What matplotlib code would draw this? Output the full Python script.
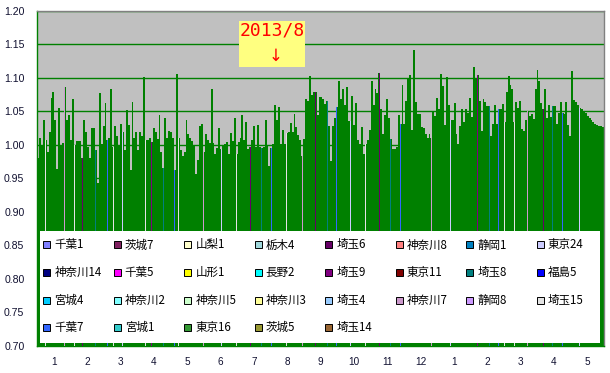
import matplotlib
matplotlib.use("Agg")
import matplotlib.pyplot as plt
from matplotlib.patches import Rectangle
import numpy as np

plt.rcParams['font.family'] = ['Noto Sans CJK JP', 'DejaVu Sans']

# ---------------- data ----------------
values = [
    0.980, 1.010, 1.000, 1.037, 1.008, 0.990, 1.020, 1.070, 1.079, 1.038,
    0.964, 1.055, 1.000, 1.003, 1.087, 1.038, 1.045, 1.008, 1.069, 1.000,
    1.006, 1.006, 1.006, 0.980, 1.038, 1.020, 0.997, 0.980, 1.026, 1.026,
    0.993, 0.943, 1.078, 1.001, 1.028, 1.062, 1.007, 1.011, 1.083, 0.997,
    1.028, 1.014, 1.000, 1.031, 1.019, 0.993, 1.052, 1.030, 0.962, 1.064,
    1.010, 1.020, 0.993, 1.020, 1.014, 1.102, 1.008, 1.008, 1.010, 1.005,
    1.025, 1.020, 1.009, 1.045, 0.990, 0.965, 1.040, 1.010, 1.021, 1.020,
    1.010, 0.962, 1.106, 1.010, 0.993, 0.983, 0.990, 1.038, 1.017, 1.011,
    1.006, 1.000, 0.957, 0.978, 1.029, 1.032, 0.990, 1.016, 1.008, 1.003,
    1.083, 1.003, 0.987, 0.995, 1.025, 0.994, 0.998, 1.001, 1.005, 0.987,
    1.018, 1.006, 1.040, 0.987, 1.005, 1.010, 1.045, 1.007, 1.034, 0.994,
    0.997, 1.007, 1.028, 0.997, 1.030, 0.997, 0.995, 0.997, 1.037, 1.000,
    0.969, 0.995, 1.002, 1.060, 1.037, 1.056, 1.001, 1.022, 1.001, 1.018,
    1.019, 1.033, 1.020, 1.047, 1.027, 1.015, 1.008, 0.983, 1.009, 1.069,
    1.066, 1.103, 1.075, 1.079, 1.079, 1.045, 1.072, 1.072, 1.069, 1.061,
    1.066, 1.029, 0.976, 1.028, 1.040, 1.056, 1.096, 1.068, 1.083, 1.060,
    1.086, 1.036, 1.036, 1.073, 1.030, 1.063, 1.007, 1.001, 1.027, 0.986,
    1.001, 1.008, 1.022, 1.096, 1.060, 1.084, 1.078, 1.107, 1.053, 1.017,
    1.045, 1.069, 1.040, 1.009, 0.994, 0.994, 0.997, 1.045, 1.032, 1.089,
    1.032, 1.065, 1.100, 1.105, 1.022, 1.142, 1.064, 1.047, 1.047, 1.027,
    1.026, 1.017, 1.011, 1.017, 1.011, 1.049, 1.044, 1.070, 1.054, 1.106,
    1.088, 1.030, 1.102, 1.060, 1.038, 1.038, 1.062, 1.017, 1.002, 1.028,
    1.053, 1.035, 1.053, 1.048, 1.070, 1.042, 1.117, 1.098, 1.105, 1.066,
    1.021, 1.069, 1.064, 1.058, 1.058, 1.014, 1.031, 1.060, 1.031, 1.053,
    1.053, 1.061, 1.034, 1.079, 1.103, 1.090, 1.084, 1.034, 1.064, 1.055,
    1.066, 1.024, 1.021, 1.037, 1.051, 1.043, 1.047, 1.039, 1.083, 1.112,
    1.096, 1.063, 1.054, 1.083, 1.041, 1.060, 1.042, 1.058, 1.058, 1.032,
    1.048, 1.064, 1.048, 1.047, 1.064, 1.030, 1.013, 1.111, 1.067, 1.064,
    1.060, 1.055, 1.053, 1.051, 1.048, 1.043, 1.041, 1.038, 1.035, 1.031,
    1.030, 1.029, 1.028, 1.027,
]

# bars that belong to other series (drawn as thin coloured bars)
accent_bars = [4, 14, 19, 23, 30, 36, 39, 44, 56, 59, 65, 71, 73,
               86, 95, 103, 110, 116, 121, 129, 137, 144, 150,
               155, 162, 170, 177, 183, 188, 204, 214,
               228, 234, 239, 242, 247, 254, 262, 267, 272, 281]
accent_series = ['埼玉15', '神奈川7', '埼玉15', '埼玉6', '埼玉8', '千葉7', '埼玉15', '東京24',
                 '埼玉15', '埼玉9', '埼玉8', '千葉7', '埼玉15',
                 '神奈川7', '東京24', '埼玉15', '埼玉6', '埼玉8', '千葉7', '埼玉15',
                 '神奈川7', '埼玉6', '埼玉8',
                 '千葉7', '東京24', '埼玉15', '埼玉6', '埼玉8', '千葉7', '神奈川7',
                 '東京24',
                 '埼玉9', '埼玉8', '千葉7', '埼玉15', '埼玉15', '神奈川7', '埼玉6',
                 '埼玉8', '千葉7', '東京24']

series_names = ['千葉1', '茨城7', '山梨1', '栃木4', '埼玉6', '神奈川8', '静岡1', '東京24',
                '神奈川14', '千葉5', '山形1', '長野2', '埼玉9', '東京11', '埼玉8', '福島5',
                '宮城4', '神奈川2', '神奈川5', '神奈川3', '埼玉4', '神奈川7', '静岡8', '埼玉15',
                '千葉7', '宮城1', '東京16', '茨城5', '埼玉14']
series_colors = ['#8080FF', '#802060', '#FFFFCC', '#A0D8DC', '#660066', '#FF8080', '#0080C0', '#CCCCFF',
                 '#000080', '#FF00FF', '#FFFF00', '#00FFFF', '#800080', '#800000', '#008080', '#0000FF',
                 '#00CCFF', '#80FFFF', '#CCFFCC', '#FFFF99', '#99CCFF', '#CC99CC', '#CC99FF', '#E3E3E3',
                 '#3366FF', '#33CCCC', '#339933', '#999933', '#996633']

month_labels = ['1', '2', '3', '4', '5', '6', '7', '8', '9', '10', '11', '12',
                '1', '2', '3', '4', '5']
y_ticks = [0.70, 0.75, 0.80, 0.85, 0.90, 0.95, 1.00, 1.05, 1.10, 1.15, 1.20]

annotation_text = '2013/8'

# ---------------- figure ----------------
W, H = 610, 373
fig = plt.figure(figsize=(W / 100, H / 100), dpi=100)
fig.patch.set_facecolor('white')
L, R, T, B = 37, 604, 11, 346
ax = fig.add_axes([L / W, 1 - B / H, (R - L) / W, (B - T) / H])
ax.set_facecolor('#C0C0C0')


def axx(px):
    return (px - L) / (R - L)


def axy(py):
    return (B - py) / (B - T)


color_map = dict(zip(series_names, series_colors))
n = len(values)
x = np.arange(n)
ax.bar(x, values, width=1.0, color='#008000', linewidth=0, zorder=2)
acc_vals = [values[i] for i in accent_bars]
acc_cols = [color_map[s] for s in accent_series]
ax.bar(accent_bars, acc_vals, width=0.5, color=acc_cols, linewidth=0, zorder=3)

ax.set_xlim(-0.5, n - 0.5)
ax.set_ylim(0.70, 1.20)
ax.set_yticks(y_ticks)
ax.set_yticklabels([f'{t:.2f}' for t in y_ticks])
ax.yaxis.grid(True, color='#008000', linewidth=1.0)
ax.set_axisbelow(True)
m = len(month_labels)
ax.set_xticks([(k + 0.5) * n / m - 0.5 for k in range(m)])
ax.set_xticklabels(month_labels)
ax.tick_params(axis='y', length=0, pad=9, labelsize=7.6, labelcolor='#101030')
ax.tick_params(axis='x', length=0, pad=8, labelsize=7.2, labelcolor='#101030')
for lab in ax.get_xticklabels() + ax.get_yticklabels():
    lab.set_fontfamily(['Liberation Sans', 'DejaVu Sans'])

ax.spines['top'].set_color('#808080')
ax.spines['right'].set_color('#808080')
ax.spines['left'].set_color('#008000')
ax.spines['bottom'].set_color('#008000')
for s in ax.spines.values():
    s.set_linewidth(1.0)

# legend box (white, inside plot)
ax.add_patch(Rectangle((axx(39.5), axy(342.5)), axx(600) - axx(39.5), axy(231) - axy(342.5),
                       transform=ax.transAxes, facecolor='white', edgecolor='none', zorder=5))
col_x0, col_dx = 43.3, 70.5
row_y = [245, 272.7, 300.5, 327.8]
ms = 7.0
for i, (name, col) in enumerate(zip(series_names, series_colors)):
    r, c = divmod(i, 8)
    px = col_x0 + c * col_dx
    py = row_y[r]
    ax.add_patch(Rectangle((axx(px), axy(py + ms / 2)), ms / (R - L), ms / (B - T),
                           transform=ax.transAxes, facecolor=col, edgecolor='black',
                           linewidth=0.7, zorder=6, clip_on=False))
    ax.text(axx(px + 11), axy(py), name, transform=ax.transAxes, fontsize=8.3,
            va='center', ha='left', color='black', zorder=7)

# annotation box
ax.add_patch(Rectangle((axx(239), axy(67)), axx(305) - axx(239), axy(21) - axy(67),
                       transform=ax.transAxes, facecolor='#FFFF80', edgecolor='none', zorder=6))
ax.text(axx(272), axy(30.5), annotation_text, transform=ax.transAxes, fontsize=13,
        family=['DejaVu Sans Mono'], color='#FF0000', ha='center', va='center', zorder=7)
ax.text(axx(276), axy(56), '↓', transform=ax.transAxes, fontsize=12,
        family=['DejaVu Sans'], color='#FF0000', ha='center', va='center', zorder=7)

fig.savefig('out.png', dpi=100)
